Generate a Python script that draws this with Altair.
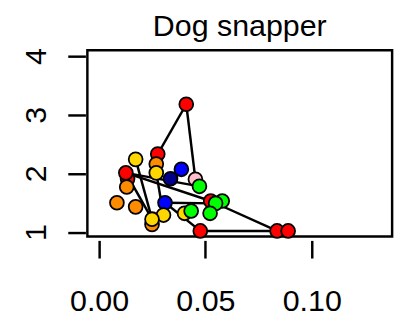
import altair as alt
import pandas as pd

# Point values (x = proportion, y = level), in drawing order
px = [0.0084, 0.0172, 0.0134, 0.0130, 0.0126, 0.0172, 0.0276, 0.0269, 0.0269,
      0.0336, 0.0387, 0.0410, 0.0453, 0.0472, 0.0310, 0.0303, 0.0249, 0.0249,
      0.0402, 0.0433, 0.0525, 0.0579, 0.0548, 0.0522, 0.0476, 0.0837, 0.0889]
py = [1.50, 1.43, 1.91, 1.77, 2.01, 2.24, 2.33, 2.16, 2.01,
      1.91, 2.07, 3.18, 1.90, 1.78, 1.50, 1.29, 1.13, 1.22,
      1.32, 1.36, 1.53, 1.53, 1.49, 1.32, 1.02, 1.02, 1.02]
grp = ["orange", "orange", "red", "orange", "red", "yellow", "red", "orange", "yellow",
       "navy", "blue", "red", "pink", "green", "blue", "yellow", "orange", "yellow",
       "yellow", "green", "red", "green", "green", "green", "red", "red", "red"]

# Connecting lines: pairs of point indices
seg_from = [11, 11, 4, 4, 4, 20, 24, 14, 8, 5, 14]
seg_to   = [6, 12, 17, 13, 20, 25, 25, 24, 15, 17, 22]

group_names = ["red", "orange", "yellow", "green", "blue", "navy", "pink"]
group_colors = ["#FF0000", "#FF8C00", "#FFD700", "#00FF00", "#0000FF", "#00008B", "#FFC0CB"]

title_text = ["Dog snapper"]

pts = pd.DataFrame({"x": px, "y": py, "g": grp, "i": list(range(len(px)))})
segs = pd.DataFrame({
    "x": [px[a] for a in seg_from], "y": [py[a] for a in seg_from],
    "x2": [px[b] for b in seg_to], "y2": [py[b] for b in seg_to],
})

FONT = "Liberation Sans"
xscale = alt.Scale(domain=[-0.0055, 0.1378], nice=False, zero=False)
yscale = alt.Scale(domain=[0.925, 4.1], nice=False, zero=False)

xaxis = alt.Axis(values=[0.0, 0.05, 0.10], format=".2f", title=None, grid=False,
                 domain=False, offset=4, tickSize=18, tickWidth=2.5, tickColor="black",
                 labelFont=FONT, labelFontSize=31, labelColor="black",
                 labelBaseline="alphabetic", labelPadding=54, labelFlush=False)
yaxis = alt.Axis(values=[1, 2, 3, 4], format="d", title=None, grid=False,
                 domain=False, offset=2, tickSize=18, tickWidth=2.5, tickColor="black",
                 labelFont=FONT, labelFontSize=31, labelColor="black", labelAngle=270,
                 labelAlign="center", labelBaseline="alphabetic", labelPadding=23,
                 labelFlush=False)

box = alt.Chart(pd.DataFrame({"a": [0]})).mark_rect(
    fill=None, stroke="black", strokeWidth=2.5
).encode(x=alt.value(0), x2=alt.value(311), y=alt.value(0), y2=alt.value(190))

lines = alt.Chart(segs).mark_rule(color="black", strokeWidth=2.5).encode(
    x=alt.X("x:Q", scale=xscale, axis=xaxis),
    y=alt.Y("y:Q", scale=yscale, axis=yaxis),
    x2="x2:Q", y2="y2:Q",
)

points = alt.Chart(pts).mark_point(
    shape="circle", filled=True, size=200, stroke="black", strokeWidth=1.8, opacity=1
).encode(
    x=alt.X("x:Q", scale=xscale),
    y=alt.Y("y:Q", scale=yscale),
    fill=alt.Fill("g:N", scale=alt.Scale(domain=group_names, range=group_colors), legend=None),
    order=alt.Order("i:Q"),
)

title = alt.Chart(pd.DataFrame({"t": title_text})).mark_text(
    font=FONT, fontSize=31, color="black", align="center", baseline="alphabetic"
).encode(text="t:N", x=alt.value(155.5), y=alt.value(-15))

chart = alt.layer(box, lines, points, title).properties(
    width=311, height=190,
    background="white",
    autosize=alt.AutoSizeParams(type="none"),
    padding={"left": 81, "top": 40, "right": 6, "bottom": 79},
).configure_view(strokeWidth=0)

chart.save("out.html", embed_options={"renderer": "svg", "actions": False})
